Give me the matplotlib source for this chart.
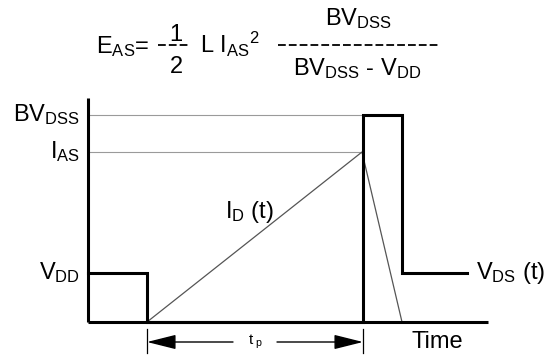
import matplotlib
matplotlib.use('Agg')
import matplotlib.pyplot as plt

plt.rcParams['font.family'] = 'Liberation Sans'
plt.rcParams['mathtext.fontset'] = 'custom'
plt.rcParams['mathtext.rm'] = 'Liberation Sans'
plt.rcParams['mathtext.it'] = 'Liberation Sans:italic'

# waveform data (time units, amplitude units)
vds_t = [0, 59, 59, 275, 275, 314, 314, 379]
vds_v = [49, 49, 0, 0, 207, 207, 49, 49]
id_t = [59, 274, 314]
id_v = [0, 170, 0]
t_end = 400
v_top = 224

levels = [207, 170, 49]
level_labels = [r'BV$_{\mathrm{DSS}}$', r'I$_{\mathrm{AS}}$', r'V$_{\mathrm{DD}}$']
ref_levels = [207, 170]
tp_start, tp_end = 59, 275

FS = 17

fig = plt.figure(figsize=(5.5, 3.58), dpi=100)
ax = fig.add_axes([88 / 550, 36 / 358, 400 / 550, 224 / 358])
ax.set_xlim(0, t_end)
ax.set_ylim(0, v_top)
ax.axis('off')

# reference lines
for lv in ref_levels:
    ax.plot([0, tp_end], [lv, lv], color='#9a9a9a', lw=0.8, zorder=1)

# I_D ramp
ax.plot(id_t, id_v, color='#555555', lw=0.9, zorder=2)

# axes
ax.plot([0, 0], [0, v_top], color='black', lw=2.2, clip_on=False, solid_capstyle='butt', zorder=3)
ax.plot([0, t_end], [0, 0], color='black', lw=2.2, clip_on=False, solid_capstyle='butt', zorder=3)

# V_DS waveform
ax.plot(vds_t, vds_v, color='black', lw=2.2, clip_on=False, solid_joinstyle='miter', zorder=3)

# level labels
for lv, lab in zip(levels, level_labels):
    ax.text(-8, lv, lab, fontsize=FS, ha='right', va='center')

ax.text(161, 110, r'I$_{\mathrm{D}}$ (t)', fontsize=FS, ha='center', va='center')
ax.text(388, 49, r'V$_{\mathrm{DS}}$ (t)', fontsize=FS, ha='left', va='center')
ax.text(349, -20, 'Time', fontsize=FS, ha='center', va='center', clip_on=False)

# t_p dimension arrows
for x in (tp_start, tp_end):
    ax.plot([x, x], [-7, -31], color='black', lw=0.9, clip_on=False)
mid = (tp_start + tp_end) / 2
arrow = dict(arrowstyle='-|>,head_length=1.8,head_width=0.45',
             mutation_scale=10, color='black', lw=1, shrinkA=0, shrinkB=0)
ax.annotate('', xy=(tp_start, -20), xytext=(mid - 22, -20), arrowprops=arrow,
            annotation_clip=False)
ax.annotate('', xy=(tp_end, -20), xytext=(mid + 22, -20), arrowprops=arrow,
            annotation_clip=False)
ax.text(mid, -20, r't$_{\ \mathrm{p}}$', fontsize=11, ha='center', va='center')


# formula at top (figure pixel coords)
def fx(px):
    return px / 550


def fy(py):
    return 1 - py / 358


fig.text(fx(96), fy(53), r'E$_{\mathrm{AS}}$', fontsize=FS, ha='left', va='baseline')
fig.text(fx(142), fy(53), '=', fontsize=FS, ha='center', va='baseline')
fig.text(fx(176), fy(41), '1', fontsize=FS, ha='center', va='baseline')
fig.text(fx(176), fy(73), '2', fontsize=FS, ha='center', va='baseline')
fig.text(fx(200), fy(53), r'L I$_{\mathrm{AS}}$$^{\mathrm{2}}$', fontsize=FS, ha='left', va='baseline')
fig.text(fx(358), fy(25), r'BV$_{\mathrm{DSS}}$', fontsize=FS, ha='center', va='baseline')
fig.text(fx(357), fy(75), r'BV$_{\mathrm{DSS}}$ - V$_{\mathrm{DD}}$', fontsize=FS,
         ha='center', va='baseline')
for x0, x1 in ((158, 190), (278, 440)):
    fig.add_artist(plt.Line2D([fx(x0), fx(x1)], [fy(45), fy(45)], color='black', lw=1.3,
                              linestyle=(0, (4.3, 1.7))))

fig.savefig('out.png', dpi=100)
